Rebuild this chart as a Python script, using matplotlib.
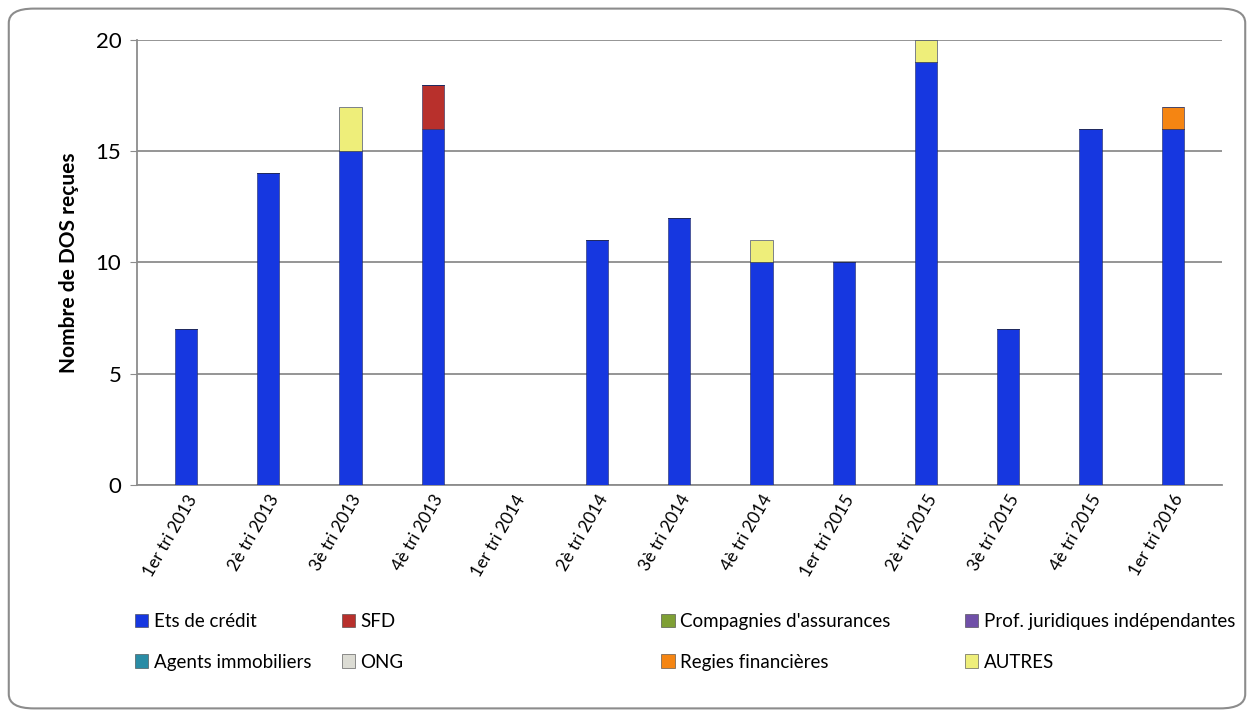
import numpy as np
import matplotlib.pyplot as plt
from matplotlib.patches import FancyBboxPatch, Patch


plt.rcParams['font.family'] = ['Lato', 'DejaVu Sans']

quarters = ['1er tri 2013', '2è tri 2013', '3è tri 2013', '4è tri 2013',
            '1er tri 2014', '2è tri 2014', '3è tri 2014', '4è tri 2014',
            '1er tri 2015', '2è tri 2015', '3è tri 2015', '4è tri 2015',
            '1er tri 2016']

ets_credit = [7, 14, 15, 16, 0, 11, 12, 10, 10, 19, 7, 16, 16]
sfd = [0, 0, 0, 2, 0, 0, 0, 0, 0, 0, 0, 0, 0]
assurances = [0, 0, 0, 0, 0, 0, 0, 0, 0, 0, 0, 0, 0]
prof_juridiques = [0, 0, 0, 0, 0, 0, 0, 0, 0, 0, 0, 0, 0]
agents_immo = [0, 0, 0, 0, 0, 0, 0, 0, 0, 0, 0, 0, 0]
ong = [0, 0, 0, 0, 0, 0, 0, 0, 0, 0, 0, 0, 0]
regies = [0, 0, 0, 0, 0, 0, 0, 0, 0, 0, 0, 0, 1]
autres = [0, 0, 2, 0, 0, 0, 0, 1, 0, 1, 0, 0, 0]

series = [
    ('Ets de crédit', ets_credit, '#1637e0'),
    ('SFD', sfd, '#b8302c'),
    ("Compagnies d'assurances", assurances, '#7fa035'),
    ('Prof. juridiques indépendantes', prof_juridiques, '#7050a8'),
    ('Agents immobiliers', agents_immo, '#2a8ca5'),
    ('ONG', ong, '#dcdcd4'),
    ('Regies financières', regies, '#f58512'),
    ('AUTRES', autres, '#eeee7a'),
]

fig = plt.figure(figsize=(12.54, 7.17), dpi=100)
ax = fig.add_axes([0.109, 0.3236, 0.8655, 0.6206])

x = np.arange(len(quarters))
bottom = np.zeros(len(quarters))
handles = []
for name, vals, color in series:
    vals = np.array(vals, dtype=float)
    ax.bar(x, vals, 0.27, bottom=bottom, color=color,
           edgecolor='#202a60', linewidth=0.4, zorder=3)
    bottom += vals
    handles.append(Patch(facecolor=color, edgecolor='#404040', linewidth=0.4,
                         label=name))

ax.set_xlim(-0.6, len(quarters) - 0.4)
ax.set_ylim(0, 20)
ax.set_yticks([0, 5, 10, 15, 20])
ax.yaxis.grid(True, color='#8c8c8c', linewidth=1.3, zorder=0)
ax.set_axisbelow(True)
for side in ('top', 'right'):
    ax.spines[side].set_visible(False)
for side in ('left', 'bottom'):
    ax.spines[side].set_color('#8c8c8c')
    ax.spines[side].set_linewidth(1.3)
ax.tick_params(axis='y', length=5, color='#8c8c8c', labelsize=16, pad=6)
ax.tick_params(axis='x', length=0, labelsize=12.5, pad=5)
ax.set_xticks(x)
ax.set_xticklabels(quarters, rotation=60, ha='right', rotation_mode='anchor')
ax.set_ylabel('Nombre de DOS reçues', fontsize=15, fontweight='bold',
              labelpad=12)

# legend in four columns, placed like the original
col_x = [0.1, 0.265, 0.52, 0.762]
for i, cx in enumerate(col_x):
    leg = fig.legend(handles=[handles[i], handles[i + 4]], loc='upper left',
                     bbox_to_anchor=(cx, 0.158), frameon=False,
                     fontsize=13.5, handlelength=0.7, handleheight=0.7,
                     handletextpad=0.3, labelspacing=1.25, borderpad=0)

frame = FancyBboxPatch((0.007, 0.012), 0.986, 0.976,
                       boxstyle='round,pad=0,rounding_size=0.02',
                       transform=fig.transFigure, facecolor='none',
                       edgecolor='#8c8c8c', linewidth=1.5)
fig.patches.append(frame)

fig.savefig('out.png', dpi=100)
